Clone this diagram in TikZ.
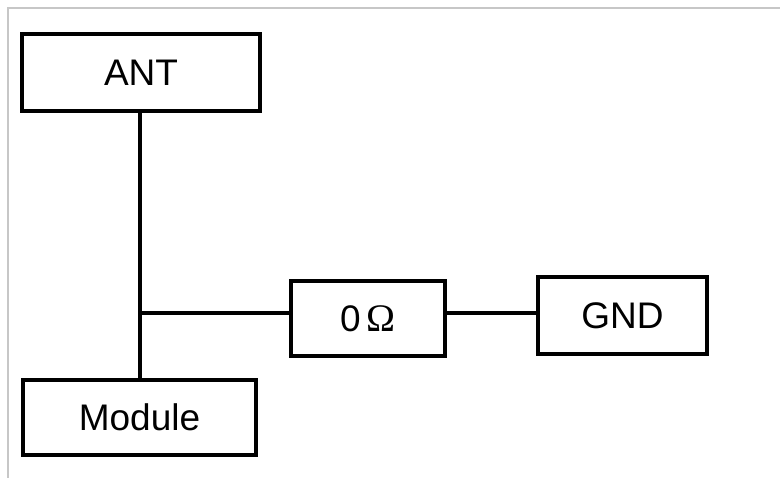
\documentclass[tikz,border=0pt]{standalone}
\usepackage{fontspec}
\setmainfont{Liberation Sans}
\newfontfamily\omegafont{Liberation Serif}
\begin{document}
\begin{tikzpicture}[x=1pt,y=-1pt,
  blk/.style={draw=black,line width=4.8pt,fill=white,inner sep=0pt,font=\fontsize{37}{44}\selectfont},
  wire/.style={draw=black,line width=4.8pt},
  frameline/.style={draw=black!22,line width=1.5pt}]
\useasboundingbox (0,0) rectangle (780,478);
\draw[frameline] (8,478) -- (8,8) -- (780,8);
\node[blk,minimum width=238pt,minimum height=77pt] (ant) at (141,72.5) {\raisebox{-2pt}{ANT}};
\node[blk,minimum width=233pt,minimum height=75pt] (mod) at (139.5,417.5) {Module};
\node[blk,minimum width=154pt,minimum height=75pt] (res) at (368,318.5) {0\,{\omegafont\fontsize{39}{44}\selectfont Ω}};
\node[blk,minimum width=169pt,minimum height=77pt] (gnd) at (622.5,315.5) {\raisebox{-2pt}{GND}};
\coordinate (j) at (140,313);
\draw[wire] (j |- ant.south) -- (j |- mod.north);
\draw[wire] (j) -- (res.west |- j);
\draw[wire] (res.east |- j) -- (gnd.west |- j);
\end{tikzpicture}
\end{document}
